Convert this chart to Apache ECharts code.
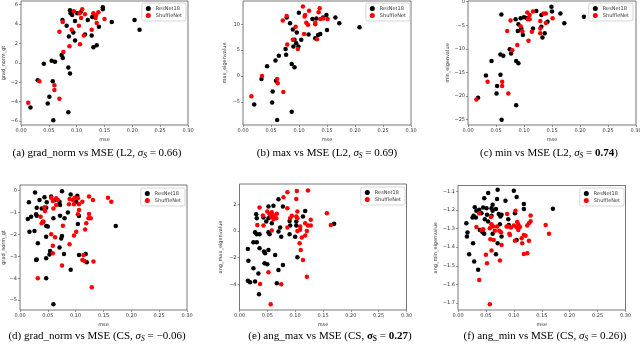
<!DOCTYPE html>
<html><head><meta charset="utf-8">
<script src="https://cdn.jsdelivr.net/npm/echarts@6/dist/echarts.min.js"></script>
<style>html,body{margin:0;padding:0;background:#fff}#c{width:640px;height:348px}</style>
</head><body><div id="c"></div>
<script>
// ---------- tick labels ----------
const xTicks = [0, 0.05, 0.10, 0.15, 0.20, 0.25, 0.30];
const yTicksA = [-6, -4, -2, 0, 2, 4, 6];
const yTicksB = [-5, 0, 5, 10];
const yTicksC = [-25, -20, -15, -10, -5, 0];
const yTicksD = [-5, -4, -3, -2, -1, 0];
const yTicksE = [-4, -2, 0, 2];
const yTicksF = [-1.7, -1.6, -1.5, -1.4, -1.3, -1.2, -1.1];
const seriesNames = ['ResNet18', 'ShuffleNet'];

// ---------- (a) grad_norm vs mse (L2) ----------
const aResNet = [[0.088,5.4],[0.089,5.1],[0.092,4.9],[0.101,5.1],[0.107,5.2],[0.0745,4.4],[0.097,4.3],[0.082,3.8],[0.094,3.1],[0.086,2.7],[0.097,2.3],[0.115,2.9],[0.120,4.4],[0.128,4.7],[0.127,2.8],[0.130,1.6],[0.136,1.8],[0.140,3.7],[0.147,5.7],[0.147,5.5],[0.163,4.2],[0.204,4.4],[0.213,3.4],[0.073,0.8],[0.075,0.5],[0.055,0.2],[0.061,0.1],[0.041,-0.1],[0.085,-0.5],[0.088,-1.1],[0.030,-1.8],[0.057,-1.9],[0.051,-3.5],[0.048,-4.2],[0.017,-4.6],[0.085,-5.1],[0.058,-5.9]];
const aShuffle = [[0.095,5.3],[0.110,5.5],[0.105,5.1],[0.115,5.0],[0.108,4.6],[0.130,5.1],[0.135,4.9],[0.139,5.2],[0.134,4.6],[0.150,4.5],[0.136,4.1],[0.075,4.2],[0.104,3.8],[0.091,3.4],[0.069,3.2],[0.113,2.8],[0.127,3.4],[0.106,1.9],[0.087,1.7],[0.076,1.1],[0.033,-1.9],[0.060,-2.3],[0.060,-2.8],[0.069,-3.7],[0.013,-4.1]];

// ---------- (b) max vs mse (L2) ----------
const bResNet = [[0.0998,12.2],[0.084,10.2],[0.078,11.3],[0.089,9.0],[0.096,8.4],[0.092,7.0],[0.095,6.3],[0.090,5.7],[0.099,5.7],[0.104,7.0],[0.076,5.2],[0.077,4.1],[0.064,3.9],[0.058,3.0],[0.043,1.9],[0.033,-0.6],[0.059,-0.9],[0.053,-3.0],[0.052,-5.1],[0.020,-5.5],[0.087,2.3],[0.092,1.7],[0.087,-6.9],[0.061,-8.5],[0.117,8.0],[0.124,11.0],[0.131,11.1],[0.134,7.9],[0.138,8.1],[0.129,7.3],[0.143,11.3],[0.149,11.8],[0.150,8.9],[0.165,11.3],[0.172,10.2],[0.208,9.4]];
const bShuffle = [[0.107,13.4],[0.078,11.6],[0.071,10.7],[0.111,11.8],[0.110,11.5],[0.118,12.6],[0.113,10.3],[0.116,9.9],[0.094,9.5],[0.129,10.3],[0.129,10.0],[0.137,13.1],[0.135,12.3],[0.138,11.0],[0.143,11.1],[0.151,11.0],[0.109,8.1],[0.132,7.1],[0.089,7.0],[0.079,6.1],[0.098,5.2],[0.034,0.0],[0.061,-0.6],[0.062,-1.4],[0.072,-3.1],[0.015,-3.9]];

// ---------- (c) min vs mse (L2) ----------
const cResNet = [[0.0596,-2.7],[0.085,-3.75],[0.090,-4.8],[0.094,-3.5],[0.100,-3.3],[0.105,-3.5],[0.089,-6.2],[0.095,-5.7],[0.098,-7.1],[0.122,-2.0],[0.131,-2.8],[0.131,-5.3],[0.149,-1.06],[0.150,-2.1],[0.142,-4.25],[0.116,-5.7],[0.133,-7.6],[0.137,-6.7],[0.165,-2.5],[0.172,-4.6],[0.207,-3.2],[0.0745,-10.1],[0.077,-11.0],[0.058,-11.2],[0.063,-11.5],[0.042,-12.6],[0.086,-12.6],[0.090,-13.1],[0.032,-15.7],[0.058,-15.5],[0.052,-17.9],[0.051,-19.5],[0.018,-20.4],[0.086,-22.0],[0.060,-25.1]];
const cShuffle = [[0.076,-4.0],[0.070,-6.2],[0.094,-5.2],[0.097,-6.3],[0.106,-2.3],[0.110,-2.8],[0.107,-3.75],[0.110,-3.75],[0.116,-2.1],[0.114,-6.4],[0.108,-8.3],[0.129,-4.1],[0.129,-5.7],[0.129,-6.7],[0.135,-2.5],[0.139,-2.5],[0.139,-4.5],[0.151,-3.5],[0.088,-9.2],[0.079,-10.3],[0.035,-17.0],[0.061,-17.0],[0.061,-17.9],[0.072,-19.5],[0.015,-20.8]];

// ---------- (d) grad_norm vs mse (CS) ----------
const dResNet = [[0.027,-0.08],[0.016,-0.53],[0.044,-0.30],[0.035,-0.43],[0.0755,-0.02],[0.063,-0.43],[0.071,-0.50],[0.072,-0.65],[0.091,-0.17],[0.103,-0.23],[0.101,-0.50],[0.030,-0.78],[0.039,-0.81],[0.047,-0.78],[0.014,-1.29],[0.020,-1.19],[0.029,-1.08],[0.030,-1.14],[0.042,-1.42],[0.047,-1.61],[0.050,-1.64],[0.060,-1.26],[0.072,-1.14],[0.080,-1.26],[0.086,-1.00],[0.106,-1.16],[0.104,-1.52],[0.017,-1.87],[0.026,-1.84],[0.047,-2.10],[0.0755,-2.07],[0.074,-2.18],[0.032,-2.40],[0.071,-2.60],[0.054,-2.75],[0.053,-2.91],[0.079,-2.89],[0.106,-2.94],[0.118,-2.89],[0.120,-3.27],[0.030,-3.14],[0.029,-3.17],[0.047,-3.09],[0.091,-3.61],[0.047,-4.00],[0.060,-5.19],[0.172,-1.61],[0.056,-0.27],[0.048,-0.53]];
const dShuffle = [[0.056,-0.32],[0.065,-0.35],[0.060,-0.81],[0.065,-0.65],[0.068,-0.43],[0.059,-0.47],[0.044,-0.76],[0.045,-0.93],[0.037,-1.19],[0.041,-1.42],[0.039,-1.49],[0.089,-0.38],[0.095,-0.43],[0.098,-0.32],[0.104,-0.35],[0.097,-0.62],[0.088,-0.62],[0.106,-0.62],[0.112,-0.50],[0.124,-0.27],[0.131,-0.43],[0.106,-0.88],[0.104,-1.08],[0.124,-1.07],[0.123,-1.26],[0.127,-1.26],[0.119,-1.49],[0.117,-1.77],[0.077,-1.60],[0.101,-1.87],[0.097,-2.05],[0.056,-1.99],[0.063,-2.13],[0.089,-2.45],[0.059,-2.51],[0.059,-2.86],[0.114,-2.94],[0.112,-3.17],[0.116,-3.21],[0.132,-3.24],[0.0755,-3.42],[0.032,-4.00],[0.129,-4.41],[0.158,-0.32],[0.164,-0.50]];

// ---------- (e) ang_max vs mse (CS) ----------
const eResNet = [[0.052,1.83],[0.061,1.88],[0.070,2.38],[0.078,1.83],[0.030,1.25],[0.031,0.95],[0.043,1.0],[0.048,0.7],[0.052,0.95],[0.058,0.58],[0.028,-0.1],[0.031,-0.25],[0.036,-0.25],[0.025,-0.85],[0.031,-0.85],[0.054,-0.25],[0.052,-0.1],[0.070,-0.05],[0.073,0.25],[0.075,-0.43],[0.015,-1.35],[0.036,-1.3],[0.044,-1.55],[0.046,-1.68],[0.052,-1.43],[0.064,-1.8],[0.016,-2.23],[0.045,-2.43],[0.050,-2.5],[0.078,-2.55],[0.025,-2.8],[0.070,-2.93],[0.034,-3.2],[0.015,-3.73],[0.019,-3.85],[0.028,-3.8],[0.067,-3.93],[0.035,-4.75],[0.090,0.75],[0.091,0.4],[0.102,0.4],[0.090,-0.25],[0.100,-0.43],[0.102,0.7],[0.104,-1.98],[0.118,1.5],[0.114,1.08],[0.170,0.53]];
const eShuffle = [[0.036,1.75],[0.042,1.15],[0.032,0.45],[0.043,0.4],[0.050,1.45],[0.054,1.25],[0.058,1.4],[0.060,1.2],[0.062,1.05],[0.061,0.88],[0.066,0.95],[0.067,1.28],[0.057,1.05],[0.058,0.03],[0.079,2.53],[0.086,2.9],[0.103,3.0],[0.102,2.4],[0.123,3.03],[0.094,1.13],[0.086,0.25],[0.104,1.45],[0.102,1.08],[0.104,0.95],[0.109,0.33],[0.104,0.0],[0.118,0.58],[0.123,0.4],[0.128,0.83],[0.128,0.4],[0.121,0.0],[0.118,-0.35],[0.109,0.08],[0.112,-0.5],[0.108,-0.93],[0.110,-1.43],[0.114,-2.18],[0.121,-3.43],[0.052,-3.1],[0.037,-3.98],[0.075,-4.0],[0.056,-5.5],[0.157,1.33],[0.164,0.45],[0.086,1.7],[0.091,0.95]];

// ---------- (f) ang_min vs mse (CS) ----------
const fResNet = [[0.054,-1.109],[0.071,-1.091],[0.100,-1.096],[0.105,-1.130],[0.047,-1.136],[0.062,-1.172],[0.070,-1.141],[0.085,-1.150],[0.045,-1.186],[0.030,-1.185],[0.033,-1.204],[0.038,-1.199],[0.028,-1.231],[0.026,-1.240],[0.032,-1.240],[0.042,-1.217],[0.051,-1.190],[0.060,-1.190],[0.062,-1.204],[0.052,-1.226],[0.060,-1.231],[0.048,-1.249],[0.054,-1.262],[0.073,-1.222],[0.076,-1.235],[0.078,-1.226],[0.090,-1.249],[0.068,-1.195],[0.015,-1.271],[0.017,-1.321],[0.016,-1.343],[0.039,-1.307],[0.044,-1.319],[0.047,-1.328],[0.062,-1.328],[0.075,-1.276],[0.091,-1.280],[0.102,-1.217],[0.118,-1.168],[0.118,-1.195],[0.105,-1.361],[0.071,-1.379],[0.078,-1.343],[0.027,-1.379],[0.020,-1.438],[0.068,-1.438],[0.029,-1.477],[0.036,-1.522],[0.170,-1.193]];
const fShuffle = [[0.038,-1.217],[0.033,-1.292],[0.042,-1.307],[0.045,-1.303],[0.059,-1.238],[0.057,-1.298],[0.060,-1.276],[0.063,-1.289],[0.066,-1.312],[0.070,-1.289],[0.074,-1.312],[0.077,-1.319],[0.058,-1.357],[0.064,-1.361],[0.050,-1.441],[0.052,-1.486],[0.060,-1.418],[0.075,-1.472],[0.078,-1.388],[0.088,-1.222],[0.087,-1.289],[0.090,-1.289],[0.095,-1.294],[0.092,-1.328],[0.093,-1.334],[0.100,-1.283],[0.105,-1.294],[0.111,-1.292],[0.108,-1.276],[0.103,-1.204],[0.106,-1.265],[0.108,-1.307],[0.102,-1.366],[0.114,-1.352],[0.115,-1.379],[0.118,-1.334],[0.121,-1.339],[0.118,-1.436],[0.124,-1.432],[0.127,-1.366],[0.124,-1.283],[0.127,-1.271],[0.130,-1.229],[0.130,-1.260],[0.157,-1.280],[0.163,-1.328],[0.038,-1.576],[0.057,-1.707]];

// ---------- layout (positions / styles) ----------
const panels = [
  {grid:{left:21,top:1,width:167,height:124}, yMin:-6.4, yMax:6.35, ticks:yTicksA, yName:'grad_norm_gt', nameGap:15, dec:0, res:aResNet, shf:aShuffle, legend:{right:454, top:3}},
  {grid:{left:243,top:1,width:168,height:124}, yMin:-9.46, yMax:14.48, ticks:yTicksB, yName:'max_eigenvalue', nameGap:16, dec:0, res:bResNet, shf:bShuffle, legend:{right:230, top:3}},
  {grid:{left:468,top:1,width:168,height:124}, yMin:-26.2, yMax:0.15, ticks:yTicksC, yName:'min_eigenvalue', nameGap:15, dec:0, res:cResNet, shf:cShuffle, legend:{right:7, top:3}},
  {grid:{left:20,top:185,width:167,height:125}, yMin:-5.45, yMax:0.26, ticks:yTicksD, yName:'grad_norm_gt', nameGap:12, dec:0, res:dResNet, shf:dShuffle, legend:{right:455, top:188}},
  {grid:{left:239.5,top:184,width:167,height:126}, yMin:-5.93, yMax:3.52, ticks:yTicksE, yName:'ang_max_eigenvalue', nameGap:16, dec:0, res:eResNet, shf:eShuffle, legend:{right:235, top:187}},
  {grid:{left:458,top:185.5,width:167.5,height:124.5}, yMin:-1.738, yMax:-1.068, ticks:yTicksF, yName:'ang_min_eigenvalue', nameGap:20, dec:1, res:fResNet, shf:fShuffle, legend:{right:16, top:188}}
];

const tickFont = {fontSize:5, color:'#333', fontFamily:'DejaVu Sans'};
const fmt = (v, d) => v.toFixed(d).replace('-', '\u2212');

const option = {
  animation:false,
  backgroundColor:'#fff',
  grid: panels.map(p => Object.assign({show:true, borderColor:'#555', borderWidth:0.8, backgroundColor:'transparent', containLabel:false, outerBoundsMode:'none'}, p.grid)),
  xAxis: panels.map((p,i) => ({
    type:'value', gridIndex:i, min:0, max:0.3, position:'bottom',
    name:'mse', nameLocation:'middle', nameGap:12, nameTextStyle:tickFont,
    axisLine:{show:false, onZero:false}, splitLine:{show:false},
    axisTick:{show:true, length:2, customValues:xTicks, lineStyle:{color:'#555', width:0.6}},
    axisLabel:Object.assign({margin:3, customValues:xTicks, formatter:v => v.toFixed(2)}, tickFont)
  })),
  yAxis: panels.map((p,i) => ({
    type:'value', gridIndex:i, min:p.yMin, max:p.yMax, position:'left',
    name:p.yName, nameLocation:'middle', nameGap:p.nameGap, nameRotate:90, nameTextStyle:tickFont,
    axisLine:{show:false, onZero:false}, splitLine:{show:false},
    axisTick:{show:true, length:2, customValues:p.ticks, lineStyle:{color:'#555', width:0.6}},
    axisLabel:Object.assign({margin:3, customValues:p.ticks, formatter:v => fmt(v, p.dec)}, tickFont)
  })),
  legend: panels.map(p => Object.assign({
    data:seriesNames, orient:'vertical', icon:'circle', itemWidth:5, itemHeight:5, itemGap:2,
    textStyle:{fontSize:5, color:'#333', fontFamily:'DejaVu Sans'},
    borderColor:'#ccc', borderWidth:0.8, borderRadius:2, padding:[3,4,3,4], selectedMode:false, backgroundColor:'#fff'
  }, p.legend)),
  series: panels.flatMap((p,i) => [
    {type:'scatter', name:seriesNames[0], xAxisIndex:i, yAxisIndex:i, data:p.res, symbolSize:4.5, itemStyle:{color:'#000', opacity:1}},
    {type:'scatter', name:seriesNames[1], xAxisIndex:i, yAxisIndex:i, data:p.shf, symbolSize:4.5, itemStyle:{color:'#ff0000', opacity:1}}
  ])
};

const serif = 'Liberation Serif';
const rich = {
  n:{fontSize:11, fontFamily:serif, lineHeight:14, verticalAlign:'middle'},
  g:{fontSize:11, fontFamily:serif, fontStyle:'italic', lineHeight:14, verticalAlign:'middle'},
  s:{fontSize:7.5, fontFamily:serif, fontStyle:'italic', lineHeight:8, padding:[6,0,0,0], verticalAlign:'middle'},
  b:{fontSize:11, fontFamily:serif, fontWeight:'bold', lineHeight:14, verticalAlign:'middle'},
  gb:{fontSize:11, fontFamily:serif, fontWeight:'bold', lineHeight:14, verticalAlign:'middle'},
  sb:{fontSize:7.5, fontFamily:serif, fontWeight:'bold', lineHeight:8, padding:[6,0,0,0], verticalAlign:'middle'}
};
const captions = [
  {x:97, y:153, text:'{n|(a) grad_norm vs MSE (L2, }{g|σ}{s|S}{n| = 0.66)}'},
  {x:327, y:153, text:'{n|(b) max vs MSE (L2, }{g|σ}{s|S}{n| = 0.69)}'},
  {x:549, y:153, text:'{n|(c) min vs MSE (L2, }{g|σ}{s|S}{n| = }{b|0.74}{n|)}'},
  {x:97, y:336, text:'{n|(d) grad_norm vs MSE (CS, }{g|σ}{s|S}{n| = −0.06)}'},
  {x:330, y:336, text:'{n|(e) ang_max vs MSE (CS, }{gb|σ}{sb|S}{n| = }{b|0.27}{n|)}'},
  {x:545, y:336, text:'{n|(f) ang_min vs MSE (CS, }{g|σ}{s|S}{n| = 0.26))}'}
];
option.graphic = captions.map(c => ({
  type:'text', x:c.x, y:c.y, z:100,
  style:{text:c.text, rich:rich, fill:'#000', align:'center', verticalAlign:'middle', font:'11px "Liberation Serif"'}
}));

const chart = echarts.init(document.getElementById('c'), null, {renderer:'canvas'});
chart.setOption(option);
</script>
</body></html>
